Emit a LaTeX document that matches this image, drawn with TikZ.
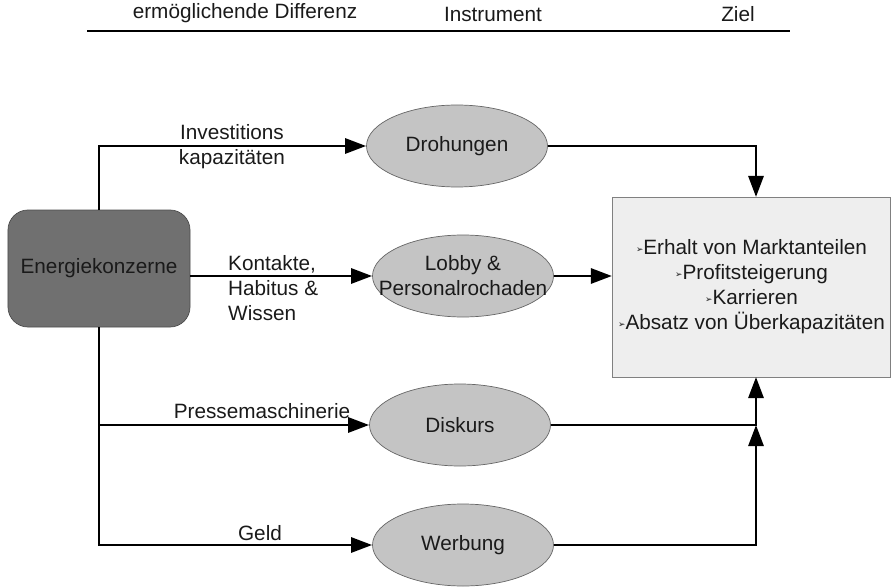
\documentclass[tikz,border=0pt]{standalone}
\usepackage{fontspec}
\setmainfont{Liberation Sans}
\newfontfamily\dejavu{DejaVu Sans}
\usetikzlibrary{shapes.geometric}
\usetikzlibrary{arrows.meta}

\definecolor{txtcol}{HTML}{1A1A1A}
\definecolor{konzern}{HTML}{707070}
\definecolor{instr}{HTML}{C4C4C4}
\definecolor{zielbg}{HTML}{EEEEEE}

\newcommand{\zbul}{\raisebox{0.25ex}{\fontsize{5}{5}\dejavu ➢}}

\tikzset{
    instrument/.style={ellipse,draw=black!60,fill=instr,minimum width=3.62cm,minimum height=1.64cm,inner sep=0pt,align=center},
    flow/.style={line width=1.6pt,-{Triangle[length=0.42cm,width=0.3cm]}}
}

\begin{document}
\begin{tikzpicture}[font=\fontsize{11.8}{14.2}\selectfont,text=txtcol]
        \useasboundingbox (0,0) rectangle (17.9,11.74);

        % Kopfzeile
        \node[anchor=base] (h_diff) at (4.9,11.36) {ermöglichende Differenz};
        \node[anchor=base] (h_instr) at (9.86,11.30) {Instrument};
        \node[anchor=base] (h_ziel) at (14.76,11.30) {Ziel};
        \draw[line width=1.7pt] (1.74,11.12) -- (15.8,11.12);

        \node[rectangle,rounded corners=0.4cm,draw=black!70,fill=konzern,minimum width=3.64cm,minimum height=2.34cm] (E) at (1.98,6.37) {Energiekonzerne};

        \node[instrument] (Drohungen) at (9.14,8.82) {Drohungen};
        \node[instrument,inner xsep=-0.5cm] (Lobby) at (9.26,6.22) {Lobby \&\\Personalrochaden};
        \node[instrument] (Diskurs) at (9.2,3.24) {Diskurs};
        \node[instrument] (Werbung) at (9.26,0.84) {Werbung};

        \node[rectangle,draw=black!50,fill=zielbg,minimum width=5.54cm,minimum height=3.6cm,align=center] (Ziel) at (15.03,6.0)
            {\zbul Erhalt von Marktanteilen\\\zbul Profitsteigerung\\\zbul Karrieren\\\zbul Absatz von Überkapazitäten};

        \coordinate (z_top) at (15.12,7.8);
        \coordinate (z_bot) at (15.12,4.2);
        \coordinate (z_mid) at (15.12,3.24);

        \node[align=center] (l_inv) at (4.64,8.8) {Investitions\\kapazitäten};
        \node[align=left,anchor=west] (l_kon) at (4.44,5.98) {Kontakte,\\Habitus \&\\Wissen};
        \node (l_presse) at (5.24,3.52) {Pressemaschinerie};
        \node (l_geld) at (5.2,1.08) {Geld};

        \draw[flow] (E.north) |- (Drohungen);
        \draw[flow] (E.east |- Lobby) -- (Lobby);
        \draw[flow] (E.south) |- (Diskurs);
        \draw[flow] (E.south) |- (Werbung);

        \draw[flow] (Drohungen) -| (z_top);
        \draw[flow] (Lobby.east) -- (Lobby.east -| Ziel.west);
        \draw[flow] (Diskurs) -| (z_bot);
        \draw[flow] (Werbung) -| (z_mid);

    \end{tikzpicture}
\end{document}
